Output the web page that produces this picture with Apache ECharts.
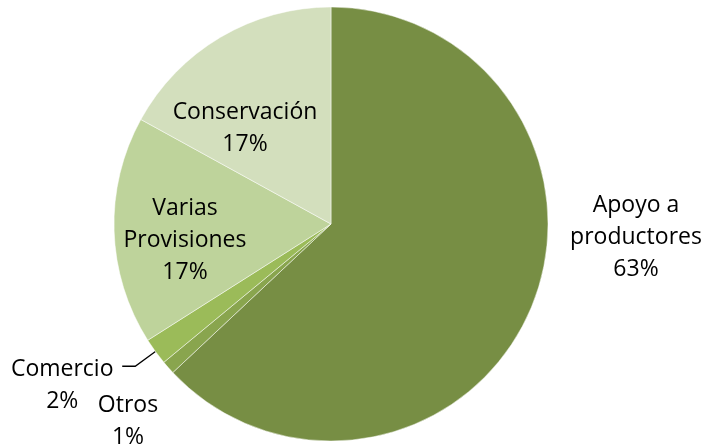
<!DOCTYPE html>
<html>
<head>
<meta charset="utf-8">
<script src="https://cdn.jsdelivr.net/npm/echarts@6/dist/echarts.min.js"></script>
<style>
  html, body { margin: 0; padding: 0; background: #ffffff; }
  #chart { width: 704px; height: 444px; }
</style>
</head>
<body>
<div id="chart"></div>
<script>
// Distribución del gasto por rubro (porcentaje)
const categories = ['Apoyo a\nproductores', 'Otros', 'Comercio', 'Varias\nProvisiones', 'Conservación'];
const shares = [63, 1, 2, 17, 17];
const colors = ['#778e44', '#89a54e', '#9bbb59', '#bed39b', '#d3dfbd'];

// Text block centres (chart pixels); null keeps the leader-line layout
const labelSpots = [
  { x: 636, y: 237 },
  { x: 128, y: 421 },
  null,
  { x: 185, y: 240 },
  { x: 245, y: 128 }
];

const FONT = 'Open Sans';
const FONT_SIZE = 23;

const chart = echarts.init(document.getElementById('chart'), null, { renderer: 'canvas' });

const data = categories.map((name, i) => {
  const item = {
    name: name,
    value: shares[i],
    itemStyle: { color: colors[i] },
    label: { position: 'inside' },
    labelLine: { show: false }
  };
  if (labelSpots[i] === null) {
    // small slice: label sits outside with a leader line
    item.label = {
      position: 'outside',
      formatter: p => '{t|' + p.name + '\n' + p.value + '%}',
      padding: [38, 0, 0, 0],
      distanceToLabelLine: 10,
      rich: {
        t: { width: 100, align: 'center', fontFamily: FONT, fontSize: FONT_SIZE, lineHeight: 32, color: '#000000' }
      }
    };
    item.labelLine = { show: true, length: 25, length2: 13, lineStyle: { color: '#000000', width: 1.3 } };
  }
  return item;
});

chart.setOption({
  animation: false,
  series: [{
    type: 'pie',
    center: [331, 224],
    radius: 217,
    startAngle: 90,
    clockwise: true,
    avoidLabelOverlap: false,
    data: data,
    itemStyle: { borderColor: 'rgba(255,255,255,0.6)', borderWidth: 0.8 },
    label: {
      show: true,
      formatter: p => p.name + '\n' + p.value + '%',
      fontFamily: FONT,
      fontSize: FONT_SIZE,
      lineHeight: 32,
      color: '#000000',
      align: 'center',
      overflow: 'none'
    },
    labelLayout: params => {
      const s = labelSpots[params.dataIndex];
      if (!s) return {};
      return { x: s.x, y: s.y, align: 'center', verticalAlign: 'middle' };
    },
    emphasis: { disabled: true }
  }]
});
</script>
</body>
</html>
